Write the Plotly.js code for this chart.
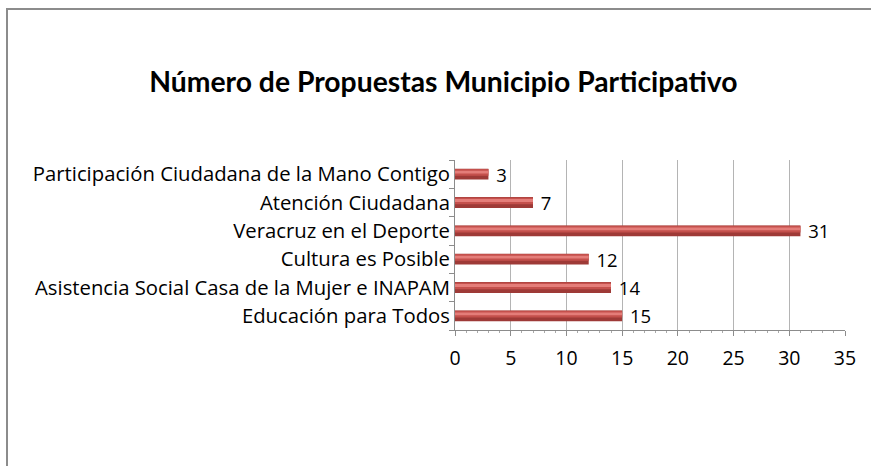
<!DOCTYPE html>
<html>
<head>
<meta charset="utf-8">
<script src="https://cdn.plot.ly/plotly-3.0.1.min.js"></script>
<style>
  html, body { margin: 0; padding: 0; background: #fff; }
  #wrap { position: relative; width: 871px; height: 466px; overflow: hidden; }
  #chart { width: 871px; height: 466px; }
  #frame { position: absolute; left: 6px; top: 8px; width: 900px; height: 500px;
           border-left: 2px solid #8c8c8c; border-top: 2px solid #8c8c8c; pointer-events: none; }
</style>
</head>
<body>
<div id="wrap">
  <div id="chart"></div>
  <div id="frame"></div>
</div>
<script>
const categories = [
  "Educación para Todos",
  "Asistencia Social Casa de la Mujer e INAPAM",
  "Cultura es Posible",
  "Veracruz en el Deporte",
  "Atención Ciudadana",
  "Participación Ciudadana de la Mano Contigo"
];
const propuestas = [15, 14, 12, 31, 7, 3];
const xTicks = [0, 5, 10, 15, 20, 25, 30, 35];

const font = "'Open Sans', Lato, sans-serif";
const titleFont = "Lato, 'Open Sans', sans-serif";

const base = {
  type: "bar", orientation: "h",
  x: propuestas, y: categories,
  width: 0.38,
  marker: { color: "#9e3a37", line: { width: 0 } },
  text: propuestas.map(v => "\u00a0" + v),
  textposition: "outside",
  constraintext: "none",
  cliponaxis: false,
  textfont: { family: font, size: 18.5, color: "#000" },
  hoverinfo: "x+y", showlegend: false
};
const mid = {
  type: "bar", orientation: "h",
  x: propuestas, y: categories,
  width: 0.24, offset: -0.06,
  marker: { color: "#c4504c", line: { width: 0 } },
  hoverinfo: "skip", showlegend: false
};
const hi = {
  type: "bar", orientation: "h",
  x: propuestas, y: categories,
  width: 0.10, offset: 0.02,
  marker: { color: "#e47d79", line: { width: 0 } },
  hoverinfo: "skip", showlegend: false
};

const layout = {
  width: 871, height: 466,
  paper_bgcolor: "rgba(0,0,0,0)", plot_bgcolor: "#fff",
  barmode: "overlay",
  margin: { l: 455, r: 26, t: 160, b: 136 },
  title: {
    text: "<b>Número de Propuestas Municipio Participativo</b>",
    font: { family: titleFont, size: 28.3, color: "#000" },
    x: 0.509, xanchor: "center", y: 0.823, yanchor: "middle"
  },
  xaxis: {
    range: [0, 35], tickvals: xTicks, ticktext: xTicks.map(String),
    showgrid: true, gridcolor: "#b4b4b4", gridwidth: 1,
    showline: true, linecolor: "#8c8c8c", linewidth: 1,
    ticks: "outside", ticklen: 5, tickcolor: "#8c8c8c",
    ticklabelstandoff: 6,
    minor: { dtick: 1, ticks: "outside", ticklen: 2, tickcolor: "#aaaaaa", showgrid: false },
    tickfont: { family: font, size: 19.5, color: "#000" },
    zeroline: false, fixedrange: true
  },
  yaxis: {
    type: "category", categoryorder: "array", categoryarray: categories,
    showgrid: false, showline: true, linecolor: "#8c8c8c", linewidth: 1,
    ticks: "outside", ticklen: 5, tickcolor: "#8c8c8c", tickson: "boundaries",
    tickfont: { family: font, size: 20.3, color: "#000" },
    fixedrange: true
  }
};

Plotly.newPlot("chart", [base, mid, hi], layout, { displayModeBar: false, staticPlot: true });
</script>
</body>
</html>
